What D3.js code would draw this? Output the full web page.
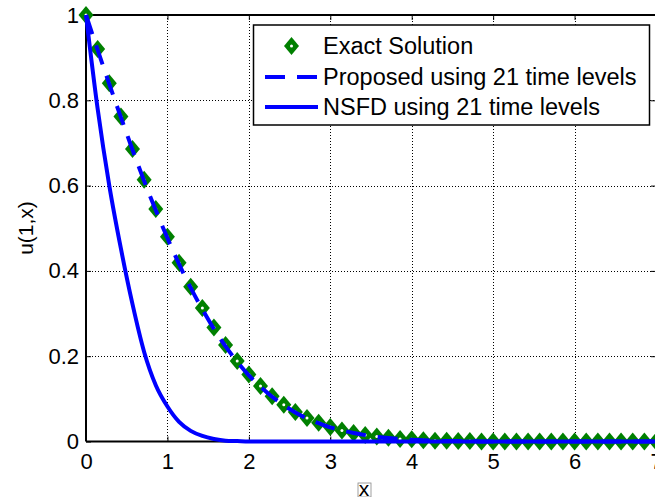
<!DOCTYPE html>
<html>
<head>
<meta charset="utf-8">
<script src="https://cdn.jsdelivr.net/npm/d3@7"></script>
<style>
  html, body { margin: 0; padding: 0; background: #fff; }
  svg { display: block; }
  text { font-family: "Liberation Sans", Arial, Helvetica, sans-serif; fill: #000; }
</style>
</head>
<body>
<svg id="chart" width="655" height="497"></svg>
<script>
// ---- data ----
const xValues = [0, 0.143, 0.286, 0.429, 0.571, 0.714, 0.857, 1.000, 1.143, 1.286,
  1.429, 1.571, 1.714, 1.857, 2.000, 2.143, 2.286, 2.429, 2.571, 2.714,
  2.857, 3.000, 3.143, 3.286, 3.429, 3.571, 3.714, 3.857, 4.000, 4.143,
  4.286, 4.429, 4.571, 4.714, 4.857, 5.000, 5.143, 5.286, 5.429, 5.571,
  5.714, 5.857, 6.000, 6.143, 6.286, 6.429, 6.571, 6.714, 6.857, 7.000];
const exactValues = [1.000, 0.920, 0.840, 0.762, 0.686, 0.614, 0.545, 0.480, 0.419, 0.363,
  0.313, 0.267, 0.226, 0.189, 0.157, 0.130, 0.106, 0.086, 0.069, 0.055,
  0.044, 0.034, 0.026, 0.020, 0.015, 0.012, 0.009, 0.006, 0.005, 0.003,
  0.002, 0.002, 0.001, 0.001, 0, 0, 0, 0, 0, 0,
  0, 0, 0, 0, 0, 0, 0, 0, 0, 0];
const proposedValues = [1.000, 0.918, 0.838, 0.760, 0.684, 0.611, 0.542, 0.477, 0.416, 0.360,
  0.310, 0.264, 0.223, 0.187, 0.155, 0.128, 0.105, 0.085, 0.068, 0.054,
  0.043, 0.033, 0.026, 0.020, 0.015, 0.011, 0.008, 0.006, 0.004, 0.003,
  0.002, 0.001, 0.001, 0.001, 0, 0, 0, 0, 0, 0,
  0, 0, 0, 0, 0, 0, 0, 0, 0, 0];
const nsfdValues = [1.000, 0.780, 0.600, 0.452, 0.322, 0.210, 0.132, 0.082, 0.046, 0.025,
  0.013, 0.006, 0.002, 0.001, 0, 0, 0, 0, 0, 0,
  0, 0, 0, 0, 0, 0, 0, 0, 0, 0,
  0, 0, 0, 0, 0, 0, 0, 0, 0, 0,
  0, 0, 0, 0, 0, 0, 0, 0, 0, 0];
const xTicks = [0, 1, 2, 3, 4, 5, 6, 7];
const yTicks = [0, 0.2, 0.4, 0.6, 0.8, 1];
const yTickLabels = ["0", "0.2", "0.4", "0.6", "0.8", "1"];
const seriesNames = ["Exact Solution", "Proposed using 21 time levels", "NSFD using 21 time levels"];
const xLabel = "x";
const yLabel = "u(1,x)";

// ---- layout ----
const L = 86, R = 656, T = 15, B = 441.5;
const svg = d3.select("#chart");
const x = d3.scaleLinear().domain([0, 7]).range([L, R]);
const y = d3.scaleLinear().domain([0, 1]).range([B, T]);
const green = "#008000", blue = "#0000ff";

// grid
const grid = svg.append("g").attr("shape-rendering", "crispEdges");
grid.selectAll("line.gx").data(xTicks.slice(1, -1)).enter().append("line")
  .attr("x1", d => Math.round(x(d)) + 0.5).attr("x2", d => Math.round(x(d)) + 0.5).attr("y1", T).attr("y2", B)
  .attr("stroke", "#000").attr("stroke-width", 1).attr("stroke-dasharray", "1,2");
grid.selectAll("line.gy").data(yTicks.slice(1, -1)).enter().append("line")
  .attr("x1", L).attr("x2", R).attr("y1", d => Math.round(y(d)) + 0.5).attr("y2", d => Math.round(y(d)) + 0.5)
  .attr("stroke", "#000").attr("stroke-width", 1).attr("stroke-dasharray", "1,2");

// axes
const axB = svg.append("g").attr("transform", `translate(0,${B})`)
  .call(d3.axisBottom(x).tickValues(xTicks).tickSize(-5).tickPadding(12).tickFormat(d3.format("d")));
const axT = svg.append("g").attr("transform", `translate(0,${T})`)
  .call(d3.axisTop(x).tickValues(xTicks).tickSize(-5).tickFormat(""));
const axL = svg.append("g").attr("transform", `translate(${L},0)`)
  .call(d3.axisLeft(y).tickValues(yTicks).tickSize(-5).tickPadding(7).tickFormat((d, i) => yTickLabels[i]));
const axR = svg.append("g").attr("transform", `translate(${R},0)`)
  .call(d3.axisRight(y).tickValues(yTicks).tickSize(-5).tickFormat(""));
[axB, axT, axL, axR].forEach(a => {
  a.select(".domain").attr("stroke", "#000").attr("stroke-width", 2);
  a.selectAll(".tick line").attr("stroke", "#000").attr("stroke-width", 1);
  a.selectAll("text").attr("font-size", 22).attr("font-family", "Liberation Sans, Arial, sans-serif").attr("fill", "#000");
});
axL.selectAll(".domain").attr("d", `M0,${T}V${B}`);
axB.selectAll(".domain").attr("d", `M${L},0H${R}`);
axT.selectAll(".domain").attr("d", `M${L},0H${R}`);
axR.selectAll(".domain").attr("d", `M0,${T}V${B}`);

// diamond
const diamond = (g, cx, cy) => {
  g.append("path").attr("d", `M${cx},${cy - 9}L${cx + 7.5},${cy}L${cx},${cy + 9}L${cx - 7.5},${cy}Z`).attr("fill", green);
  g.append("circle").attr("cx", cx).attr("cy", cy).attr("r", 1.5).attr("fill", "#fff");
};

// exact markers
const mk = svg.append("g");
xValues.forEach((xv, i) => diamond(mk, x(xv), y(exactValues[i])));

const line = d3.line().x((d, i) => x(xValues[i])).y(d => y(d)).curve(d3.curveMonotoneX);
svg.append("path").datum(proposedValues).attr("d", line)
  .attr("fill", "none").attr("stroke", blue).attr("stroke-width", 4).attr("stroke-dasharray", "20,12");
svg.append("path").datum(nsfdValues).attr("d", line)
  .attr("fill", "none").attr("stroke", blue).attr("stroke-width", 4).attr("stroke-linejoin", "round");

// legend
const lg = svg.append("g");
lg.append("rect").attr("x", 253.5).attr("y", 25).attr("width", 396).attr("height", 100)
  .attr("fill", "#fff").attr("stroke", "#000").attr("stroke-width", 1.5);
const rows = [46, 77, 107];
diamond(lg, 291.5, rows[0]);
lg.append("line").attr("x1", 265).attr("x2", 318).attr("y1", rows[1]).attr("y2", rows[1])
  .attr("stroke", blue).attr("stroke-width", 4).attr("stroke-dasharray", "20,12");
lg.append("line").attr("x1", 265).attr("x2", 318).attr("y1", rows[2]).attr("y2", rows[2])
  .attr("stroke", blue).attr("stroke-width", 4);
seriesNames.forEach((s, i) => {
  lg.append("text").attr("x", 323).attr("y", rows[i]).attr("dy", "0.36em")
    .attr("font-size", 23.5).text(s);
});

// axis labels
svg.append("text").attr("x", 364).attr("y", 496).attr("text-anchor", "middle").attr("font-size", 21).text(xLabel);
svg.append("rect").attr("x", 358).attr("y", 483).attr("width", 13).attr("height", 14)
  .attr("fill", "none").attr("stroke", "#888").attr("stroke-width", 0.8);
svg.append("text").attr("transform", "translate(33,228) rotate(-90)").attr("text-anchor", "middle")
  .attr("font-size", 21).text(yLabel);
</script>
</body>
</html>
